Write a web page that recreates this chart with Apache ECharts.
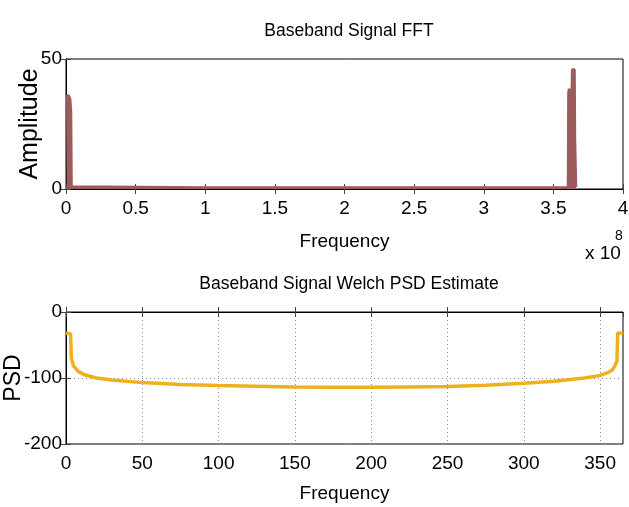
<!DOCTYPE html>
<html>
<head>
<meta charset="utf-8">
<script src="https://cdn.jsdelivr.net/npm/echarts@6/dist/echarts.min.js"></script>
<style>
html,body{margin:0;padding:0;background:#fff;}
#c{width:629px;height:507px;}
</style>
</head>
<body>
<div id="c"></div>
<script>
// Top panel: FFT amplitude (frequency in Hz)
const fftFreq = [0, 0.005e8, 0.02e8, 0.03e8, 0.036e8, 0.04e8, 0.05e8, 1.0e8, 2.0e8, 3.0e8, 3.605e8, 3.608e8, 3.612e8, 3.62e8, 3.632e8, 3.635e8, 3.652e8, 3.655e8, 3.662e8, 3.664e8];
const fftAmp  = [35.5, 36.2, 36, 34.5, 30, 1, 0.6, 0.6, 0.6, 0.6, 0.7, 37, 38.5, 38, 36.5, 46, 46, 20, 2, 0.8];
// Bottom panel: Welch PSD estimate
const psdFreq = [0, 3, 3.5, 5, 8, 12, 20, 30, 50, 75, 100, 125, 150, 175, 200, 225, 250, 275, 300, 320, 340, 350, 355, 358, 360, 361, 361.5, 365];
const psdVal  = [-32, -33, -70, -82, -90, -95, -100, -103, -107, -110, -111.5, -112.5, -113.5, -114, -114, -113.5, -113, -111, -108, -105, -100, -96, -92, -88, -80, -75, -32, -32];
const fftXTicks = ['0', '0.5', '1', '1.5', '2', '2.5', '3', '3.5', '4'];

const FONT = "'Liberation Sans', Arial, sans-serif";

const chart = echarts.init(document.getElementById('c'), null, {renderer: 'canvas'});
const axisLineStyle = {show: true, lineStyle: {color: '#000', width: 1}};
const tickStyle = {show: true, inside: true, length: 5, lineStyle: {color: '#444'}};
const labelStyle = {color: '#000', fontFamily: FONT, fontSize: 19};

chart.setOption({
  animation: false,
  backgroundColor: '#fff',
  title: [
    {text: 'Baseband Signal FFT', left: 344, top: 17, textAlign: 'center',
     textStyle: {fontFamily: FONT, fontSize: 17.5, fontWeight: 'normal', color: '#000'}},
    {text: 'Baseband Signal Welch PSD Estimate', left: 344, top: 270, textAlign: 'center',
     textStyle: {fontFamily: FONT, fontSize: 17.5, fontWeight: 'normal', color: '#000'}}
  ],
  grid: [
    {left: 66, right: 6, top: 59, height: 130, show: true, borderColor: '#000', borderWidth: 1, backgroundColor: '#fff', containLabel: false, outerBoundsMode: 'none'},
    {left: 66, right: 6, top: 312, height: 132, show: true, borderColor: '#000', borderWidth: 1, backgroundColor: '#fff', containLabel: false, outerBoundsMode: 'none'}
  ],
  xAxis: [
    {type: 'value', gridIndex: 0, min: 0, max: 4e8, interval: 0.5e8,
     name: 'Frequency', nameLocation: 'middle', nameGap: 43, nameMoveOverlap: false,
     nameTextStyle: {fontFamily: FONT, fontSize: 19, color: '#000'},
     axisLine: axisLineStyle, axisTick: tickStyle, splitLine: {show: false},
     axisLabel: Object.assign({margin: 10, formatter: v => fftXTicks[Math.round(v / 0.5e8)] ?? ''}, labelStyle)},
    {type: 'value', gridIndex: 0, position: 'top', min: 0, max: 4e8, interval: 0.5e8,
     axisLine: axisLineStyle, axisTick: tickStyle, axisLabel: {show: false}, splitLine: {show: false}},
    {type: 'value', gridIndex: 1, min: 0, max: 365, interval: 50,
     name: 'Frequency', nameLocation: 'middle', nameGap: 40, nameMoveOverlap: false,
     nameTextStyle: {fontFamily: FONT, fontSize: 19, color: '#000'},
     axisLine: axisLineStyle, axisTick: tickStyle,
     splitLine: {show: true, lineStyle: {color: '#888', type: [1, 3], width: 1}},
     axisLabel: Object.assign({margin: 10, showMaxLabel: false, formatter: v => (v % 50 === 0 ? String(v) : '')}, labelStyle)},
    {type: 'value', gridIndex: 1, position: 'top', min: 0, max: 365, interval: 50,
     axisLine: axisLineStyle, axisTick: tickStyle, axisLabel: {show: false}, splitLine: {show: false}}
  ],
  yAxis: [
    {type: 'value', gridIndex: 0, min: 0, max: 50, interval: 50,
     name: 'Amplitude', nameLocation: 'middle', nameGap: 23, nameRotate: 90, nameMoveOverlap: false,
     nameTextStyle: {fontFamily: FONT, fontSize: 25, color: '#000'},
     axisLine: axisLineStyle, axisTick: tickStyle, splitLine: {show: false},
     axisLabel: Object.assign({margin: 4}, labelStyle)},
    {type: 'value', gridIndex: 0, position: 'right', min: 0, max: 50, interval: 50,
     axisLine: axisLineStyle, axisTick: tickStyle, axisLabel: {show: false}, splitLine: {show: false}},
    {type: 'value', gridIndex: 1, min: -200, max: 0, interval: 100,
     name: 'PSD', nameLocation: 'middle', nameGap: 41, nameRotate: 90, nameMoveOverlap: false,
     nameTextStyle: {fontFamily: FONT, fontSize: 23, color: '#000'},
     axisLine: axisLineStyle, axisTick: tickStyle,
     splitLine: {show: true, lineStyle: {color: '#888', type: [1, 3], width: 1}},
     axisLabel: Object.assign({margin: 4}, labelStyle)},
    {type: 'value', gridIndex: 1, position: 'right', min: -200, max: 0, interval: 100,
     axisLine: axisLineStyle, axisTick: tickStyle, axisLabel: {show: false}, splitLine: {show: false}}
  ],
  series: [
    {type: 'line', xAxisIndex: 0, yAxisIndex: 0, showSymbol: false, z: 3,
     data: fftFreq.map((f, i) => [f, fftAmp[i]]),
     lineStyle: {color: '#9b5c5c', width: 2.5},
     areaStyle: {color: '#9b5c5c', opacity: 1, origin: 'start'}},
    {type: 'line', xAxisIndex: 2, yAxisIndex: 2, showSymbol: false, z: 3,
     data: psdFreq.map((f, i) => [f, psdVal[i]]),
     lineStyle: {color: '#EDB120', width: 3.5}}
  ],
  graphic: [
    {type: 'text', left: 585, top: 244, style: {text: 'x 10', fontFamily: FONT, fontSize: 19, fill: '#000'}},
    {type: 'text', left: 615, top: 229, style: {text: '8', fontFamily: FONT, fontSize: 14, fill: '#000'}}
  ]
});
</script>
</body>
</html>
